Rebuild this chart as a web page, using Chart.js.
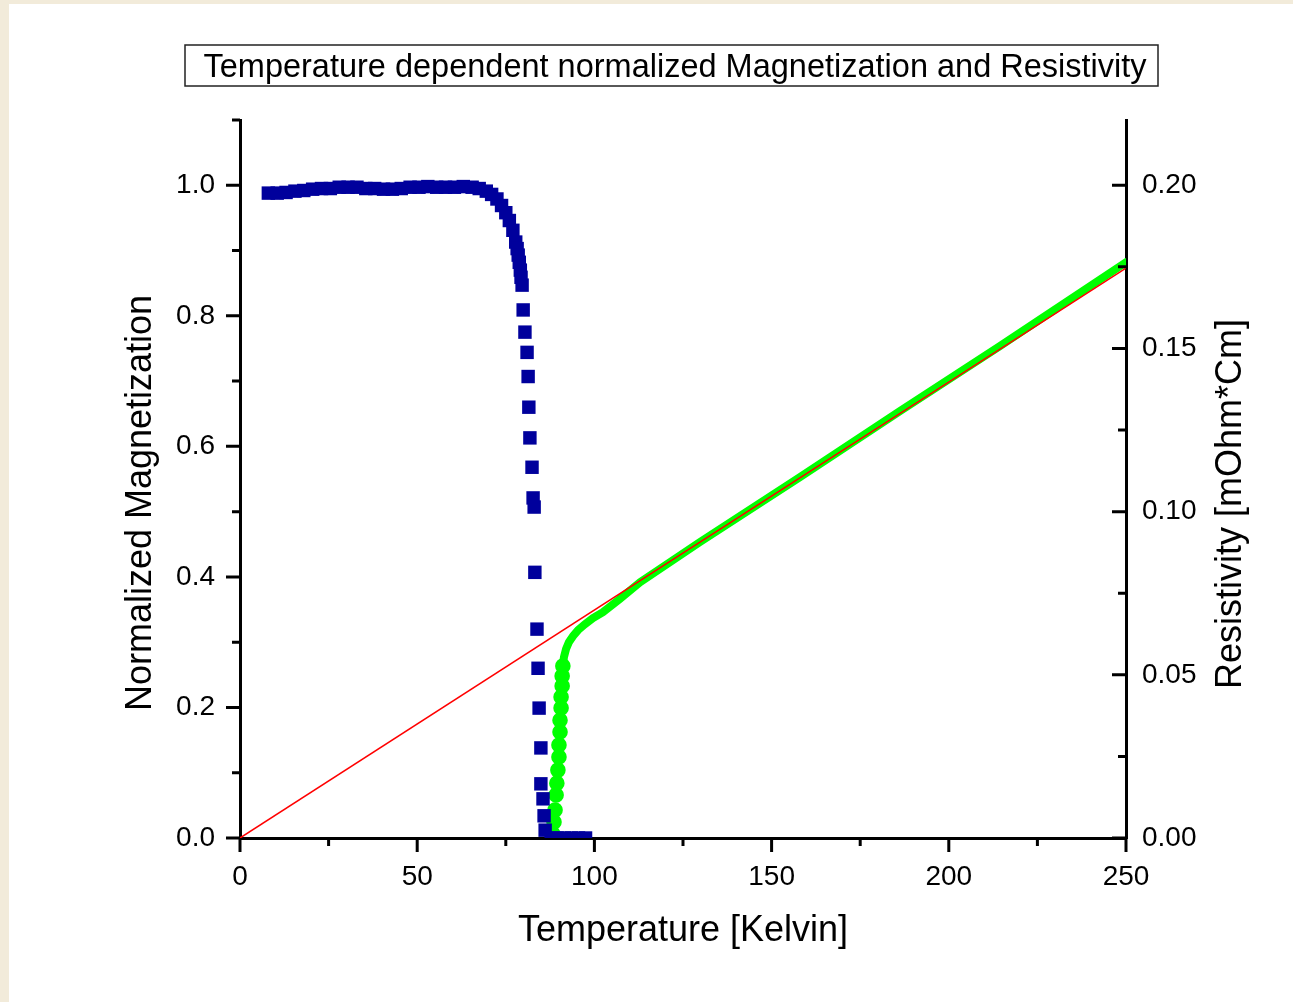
<!DOCTYPE html>
<html>
<head>
<meta charset="utf-8">
<title>Magnetization and Resistivity</title>
<script src="https://cdn.jsdelivr.net/npm/chart.js@4.4.1/dist/chart.umd.min.js"></script>
<style>
  html, body { margin: 0; padding: 0; background: #f2ebda; }
  canvas { display: block; }
</style>
</head>
<body>
<canvas id="magChart" width="1293" height="1002"></canvas>
<script>
// normalized magnetization vs temperature (blue squares)
const magTemp = [8, 10.5, 13, 15.5, 18, 20.5, 23, 25.5, 28, 30.5, 33, 35.5, 38, 40.5, 43, 45.5, 48, 50.5,
  53, 55.5, 58, 60.5, 63, 65.5, 67.5, 69.5, 71, 72.5, 73.8, 75, 76, 77, 77.8, 78.2, 78.5, 78.8, 79.1, 79.3, 79.6,
  79.9, 80.4, 81.0, 81.3, 81.5, 81.8, 82.4, 82.7, 83.0, 83.2, 83.8, 84.1, 84.4, 84.9, 84.9, 85.5, 85.8, 86.1,
  87.8, 89.5, 91.5, 93.5, 95.5, 97.5];
const magValue = [0.988, 0.988, 0.989, 0.991, 0.992, 0.994, 0.995, 0.995, 0.997, 0.997, 0.997, 0.995, 0.995, 0.994, 0.994, 0.995, 0.997, 0.997,
  0.998, 0.997, 0.997, 0.997, 0.998, 0.997, 0.995, 0.991, 0.986, 0.979, 0.969, 0.958, 0.946, 0.931, 0.913, 0.903, 0.893, 0.882, 0.870, 0.859, 0.847,
  0.809, 0.775, 0.744, 0.707, 0.660, 0.613, 0.568, 0.521, 0.507, 0.407, 0.320, 0.260, 0.199, 0.138, 0.083, 0.060, 0.034, 0.012,
  0, 0, 0, 0, 0, 0];

// resistivity [mOhm*cm] vs temperature (green)
const resTemp = [88.3, 88.6, 88.9, 89.2, 89.4, 89.7, 90.0, 90.0, 90.3, 90.3, 90.6, 90.6, 90.9, 90.9, 91.1, 91.4,
  92.0, 92.8, 94.0, 95.4, 97.3, 99.6, 102.4, 107.2, 112.9, 129.8, 158.0, 186.2, 214.4, 250];
const resValue = [0.0012, 0.0049, 0.0086, 0.0132, 0.0168, 0.0208, 0.0248, 0.0285, 0.0325, 0.0361, 0.0398, 0.0432, 0.0466, 0.0496, 0.0527, 0.0554,
  0.0579, 0.0600, 0.0619, 0.0637, 0.0655, 0.0674, 0.0692, 0.0733, 0.0784, 0.0907, 0.1106, 0.1308, 0.1507, 0.1764];
// below this temperature the measured points are drawn separately (no joining line)
const resSteepEnd = 91.2;

// linear fit (red)
const fitTemp = [0, 250];
const fitValue = [0, 0.1746];

// tick labels
const xTicks = [0, 50, 100, 150, 200, 250];
const xMinor = [25, 75, 125, 175, 225];
const magTicks = [0, 0.2, 0.4, 0.6, 0.8, 1.0];
const magMinor = [0.1, 0.3, 0.5, 0.7, 0.9, 1.1];
const resTicks = [0, 0.05, 0.10, 0.15, 0.20];
const resMinor = [0.025, 0.075, 0.125, 0.175];

const FONT = "'Liberation Sans', Arial, sans-serif";
const GREEN = '#00ff00';

const pairs = (xs, ys) => xs.map((v, i) => ({ x: v, y: ys[i] }));

const decorations = {
  id: 'decorations',
  beforeDraw(chart) {
    const c = chart.ctx;
    c.save();
    c.fillStyle = '#f2ebda';
    c.fillRect(0, 0, chart.width, chart.height);
    c.fillStyle = '#ffffff';
    c.fillRect(9, 4, chart.width - 9, chart.height - 4);
    c.restore();
  },
  afterDraw(chart) {
    const c = chart.ctx;
    const { x, y, y2 } = chart.scales;
    const a = chart.chartArea;
    c.save();
    c.strokeStyle = '#000';
    c.lineWidth = 3;
    c.beginPath();
    // bottom ticks point down
    xTicks.forEach(v => { const p = x.getPixelForValue(v); c.moveTo(p, a.bottom); c.lineTo(p, a.bottom + 14); });
    xMinor.forEach(v => { const p = x.getPixelForValue(v); c.moveTo(p, a.bottom); c.lineTo(p, a.bottom + 8); });
    // left ticks point out
    magTicks.forEach(v => { const p = y.getPixelForValue(v); c.moveTo(a.left, p); c.lineTo(a.left - 14, p); });
    magMinor.forEach(v => { const p = y.getPixelForValue(v); c.moveTo(a.left, p); c.lineTo(a.left - 8, p); });
    // right ticks point in
    resTicks.forEach(v => { const p = y2.getPixelForValue(v); c.moveTo(a.right, p); c.lineTo(a.right - 14, p); });
    resMinor.forEach(v => { const p = y2.getPixelForValue(v); c.moveTo(a.right, p); c.lineTo(a.right - 8, p); });
    c.stroke();

    // title box
    c.fillStyle = '#000';
    c.font = '32.5px ' + FONT;
    c.textAlign = 'center';
    c.textBaseline = 'middle';
    c.fillText('Temperature dependent normalized Magnetization and Resistivity', 675, 68);
    c.lineWidth = 1.5;
    c.strokeStyle = '#222';
    c.strokeRect(185, 45, 973, 41);

    // axis titles
    c.font = '36px ' + FONT;
    c.fillText('Temperature [Kelvin]', 683, 931);
    c.save();
    c.translate(141, 503);
    c.rotate(-Math.PI / 2);
    c.fillText('Normalized Magnetization', 0, 0);
    c.restore();
    c.save();
    c.translate(1231, 504);
    c.rotate(-Math.PI / 2);
    c.fillText('Resistivity [mOhm*Cm]', 0, 0);
    c.restore();
    c.restore();
  }
};

const fixTicks = list => scale => { scale.ticks = list.map(v => ({ value: v })); };

new Chart(document.getElementById('magChart'), {
  type: 'scatter',
  data: {
    datasets: [
      {
        label: 'Linear fit',
        data: pairs(fitTemp, fitValue),
        yAxisID: 'y2',
        showLine: true,
        borderColor: '#ff0000',
        borderWidth: 1.5,
        pointRadius: 0,
        clip: 0,
        order: 0
      },
      {
        label: 'Normalized Magnetization',
        data: pairs(magTemp, magValue),
        yAxisID: 'y',
        pointStyle: 'rect',
        pointRadius: 9.5,
        backgroundColor: '#00009c',
        borderColor: '#00009c',
        borderWidth: 0,
        clip: 0,
        order: 1
      },
      {
        label: 'Resistivity',
        data: pairs(resTemp, resValue),
        yAxisID: 'y2',
        showLine: true,
        borderColor: GREEN,
        backgroundColor: GREEN,
        borderWidth: 8,
        borderCapStyle: 'round',
        pointRadius: ctx => (ctx.parsed && ctx.parsed.x < resSteepEnd ? 3.8 : 0),
        segment: {
          borderColor: ctx => (ctx.p1.parsed.x < resSteepEnd ? 'rgba(0,0,0,0)' : GREEN)
        },
        clip: 0,
        order: 2
      }
    ]
  },
  options: {
    responsive: false,
    animation: false,
    events: [],
    layout: { padding: { top: 120, left: 0, right: 0, bottom: 0 } },
    plugins: { legend: { display: false }, tooltip: { enabled: false } },
    scales: {
      x: {
        type: 'linear',
        min: 0,
        max: 250,
        afterBuildTicks: fixTicks(xTicks),
        afterFit: s => { s.height = 164; },
        grid: { display: false },
        border: { display: true, color: '#000', width: 3 },
        ticks: { color: '#000', padding: 14, font: { family: FONT, size: 28 }, callback: v => String(v) }
      },
      y: {
        type: 'linear',
        position: 'left',
        min: 0,
        max: 1.1,
        afterBuildTicks: fixTicks(magTicks),
        afterFit: s => { s.width = 240; },
        grid: { display: false },
        border: { display: true, color: '#000', width: 3 },
        ticks: { color: '#000', padding: 17, font: { family: FONT, size: 28 }, callback: v => Number(v).toFixed(1) }
      },
      y2: {
        type: 'linear',
        position: 'right',
        min: 0,
        max: 0.22,
        afterBuildTicks: fixTicks(resTicks),
        afterFit: s => { s.width = 167; },
        grid: { display: false },
        border: { display: true, color: '#000', width: 3 },
        ticks: { color: '#000', padding: 8, font: { family: FONT, size: 28 }, callback: v => Number(v).toFixed(2) }
      }
    }
  },
  plugins: [decorations]
});
</script>
</body>
</html>
